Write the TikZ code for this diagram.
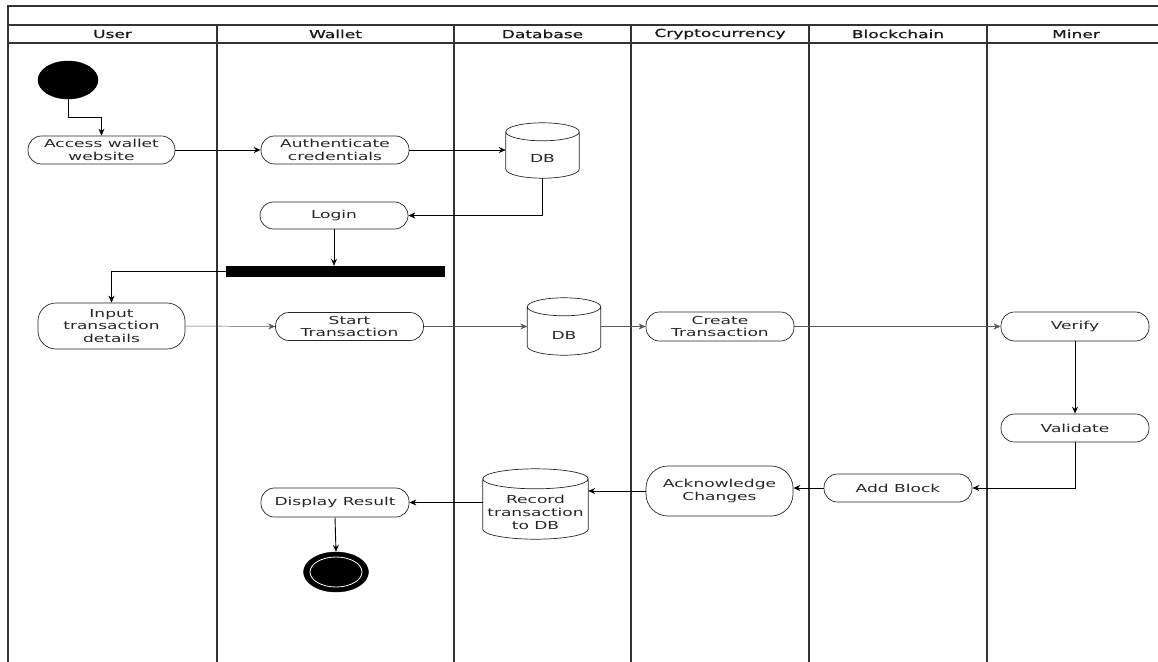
\documentclass[tikz,border=0pt]{standalone}
\usepackage{fontspec}
\setmainfont{DejaVu Sans}[FakeStretch=1.55]
\newfontfamily\headfont{DejaVu Sans}[FakeStretch=1.55,FakeBold=1]
\usetikzlibrary{calc,arrows.meta,shapes.geometric}
\tikzset{
  lane/.style={draw=black!80,line width=1.1pt},
  act/.style={draw=black!85,line width=0.7pt,rounded corners=13.5pt,minimum width=148pt,minimum height=28pt,inner sep=0pt,align=center,font=\fontsize{11}{12.5}\selectfont,text=black!85},
  cylbox/.style={draw=none,inner sep=0pt,minimum width=73pt,minimum height=55pt},
  cylline/.style={draw=black!85,line width=0.7pt},
  cyltext/.style={inner sep=0pt,align=center,font=\fontsize{11}{13}\selectfont,text=black!85},
  head/.style={inner sep=0pt,font=\headfont\fontsize{11}{12}\selectfont,text=black!90},
  arr/.style={draw=black,line width=0.9pt,-{Stealth[length=7pt,width=6pt]}},
  thinarr/.style={draw=black!65,line width=0.5pt,-{Stealth[length=7pt,width=6pt]}},
}
\newcommand{\drawcyl}[2]{%
  \draw[cylline] let \p1=($(#1.east)-(#1.west)$), \n1={0.5*\x1} in
    ([yshift=-#2]#1.north west) -- ([yshift=#2]#1.south west)
    arc[start angle=180,end angle=360,x radius=\n1,y radius=#2]
    -- ([yshift=-#2]#1.north east)
    arc[start angle=0,end angle=180,x radius=\n1,y radius=#2]
    arc[start angle=180,end angle=360,x radius=\n1,y radius=#2];}
\begin{document}
\begin{tikzpicture}[x=1pt,y=1pt]
\useasboundingbox (0,0) rectangle (1158,-661);
\clip (0,0) rectangle (1158,-661);
% frame and lanes
\draw[lane] (8,-665) -- (8,-6) -- (1170,-6);
\draw[lane] (8,-25) -- (1170,-25);
\draw[lane] (8,-43) -- (1170,-43);
\foreach \xx in {217,454,631,809,987} \draw[lane] (\xx,-25) -- (\xx,-665);
% headers
\node[head] (hUser) at (112.5,-34) {User};
\node[head] (hWallet) at (335.5,-34) {Wallet};
\node[head] (hDb) at (542.5,-34) {Database};
\node[head] (hCrypto) at (720,-34) {Cryptocurrency};
\node[head] (hChain) at (898,-34) {Blockchain};
\node[head] (hMiner) at (1076,-34) {Miner};
% start
\node[ellipse,fill=black,draw=black,minimum width=60pt,minimum height=38pt,inner sep=0pt] (start) at (68,-80) {};
% activities
\node[act,minimum width=147pt] (acc) at (101.5,-150) {Access wallet\\website};
\node[act] (auth) at (335,-150) {Authenticate\\credentials};
\node[cylbox] (db1) at (542.5,-150.5) {};
\drawcyl{db1}{9pt}
\node[cyltext] (db1t) at ([yshift=-7.5pt]db1.center) {DB};
\node[act,minimum height=27pt] (login) at (334,-215.5) {Login};
\node[fill=black,inner sep=0pt,minimum width=219pt,minimum height=11pt] (bar) at (335.5,-271.5) {};
\node[act,minimum width=147pt,minimum height=46pt,rounded corners=18pt] (inp) at (111.5,-326) {Input\\transaction\\details};
\node[act] (stx) at (349.5,-326.5) {Start\\Transaction};
\node[cylbox,minimum height=57pt] (db2) at (564,-326.5) {};
\drawcyl{db2}{9pt}
\node[cyltext] (db2t) at ([yshift=-8.5pt]db2.center) {DB};
\node[act,minimum height=29pt] (ctx) at (720,-326.5) {Create\\Transaction};
\node[act,minimum height=29pt] (ver) at (1075,-326.5) {Verify};
\node[act] (val) at (1075,-428) {Validate};
\node[act] (addb) at (898,-488) {Add Block};
\node[act,minimum width=147pt,minimum height=50pt,rounded corners=22pt] (ack) at (719.5,-491) {Acknowledge\\Changes};
\node[cylbox,minimum width=105pt,minimum height=70pt] (rec) at (535.5,-504) {};
\drawcyl{rec}{10pt}
\node[cyltext] (rect) at ([yshift=-8.5pt]rec.center) {Record\\transaction\\to DB};
\node[act,minimum height=29pt] (disp) at (335,-502.5) {Display Result};
% end
\node[ellipse,fill=black,draw=black,minimum width=65pt,minimum height=40pt,inner sep=0pt] (end) at (336,-572) {};
\draw[white,line width=0.8pt] (end.center) ellipse[x radius=26pt,y radius=15pt];
% connectors
\draw[arr] (start.south) -- ++(0,-18) -| (acc.north);
\draw[arr] (acc.east) -- (auth.west);
\draw[arr] (auth.east) -- (auth.east -| db1.west);
\draw[arr] (db1.south) |- (login.east);
\draw[arr] (login.south) -- (login.south |- bar.north);
\draw[arr] (bar.west) -| (inp.north);
\draw[thinarr] (inp.east) -- (stx.west);
\draw[thinarr] (stx.east) -- (stx.east -| db2.west);
\draw[thinarr] (db2.east) -- (db2.east -| ctx.west);
\draw[thinarr] (ctx.east) -- (ver.west);
\draw[arr] (ver.south) -- (val.north);
\draw[arr] (val.south) |- (addb.east);
\draw[arr] (addb.west) -- (addb.west -| ack.east);
\draw[arr] (ack.west) -- (ack.west -| rec.east);
\draw[arr] (disp.east -| rec.west) -- (disp.east);
\draw[arr] (disp.south) -- (end.north);
\end{tikzpicture}
\end{document}
